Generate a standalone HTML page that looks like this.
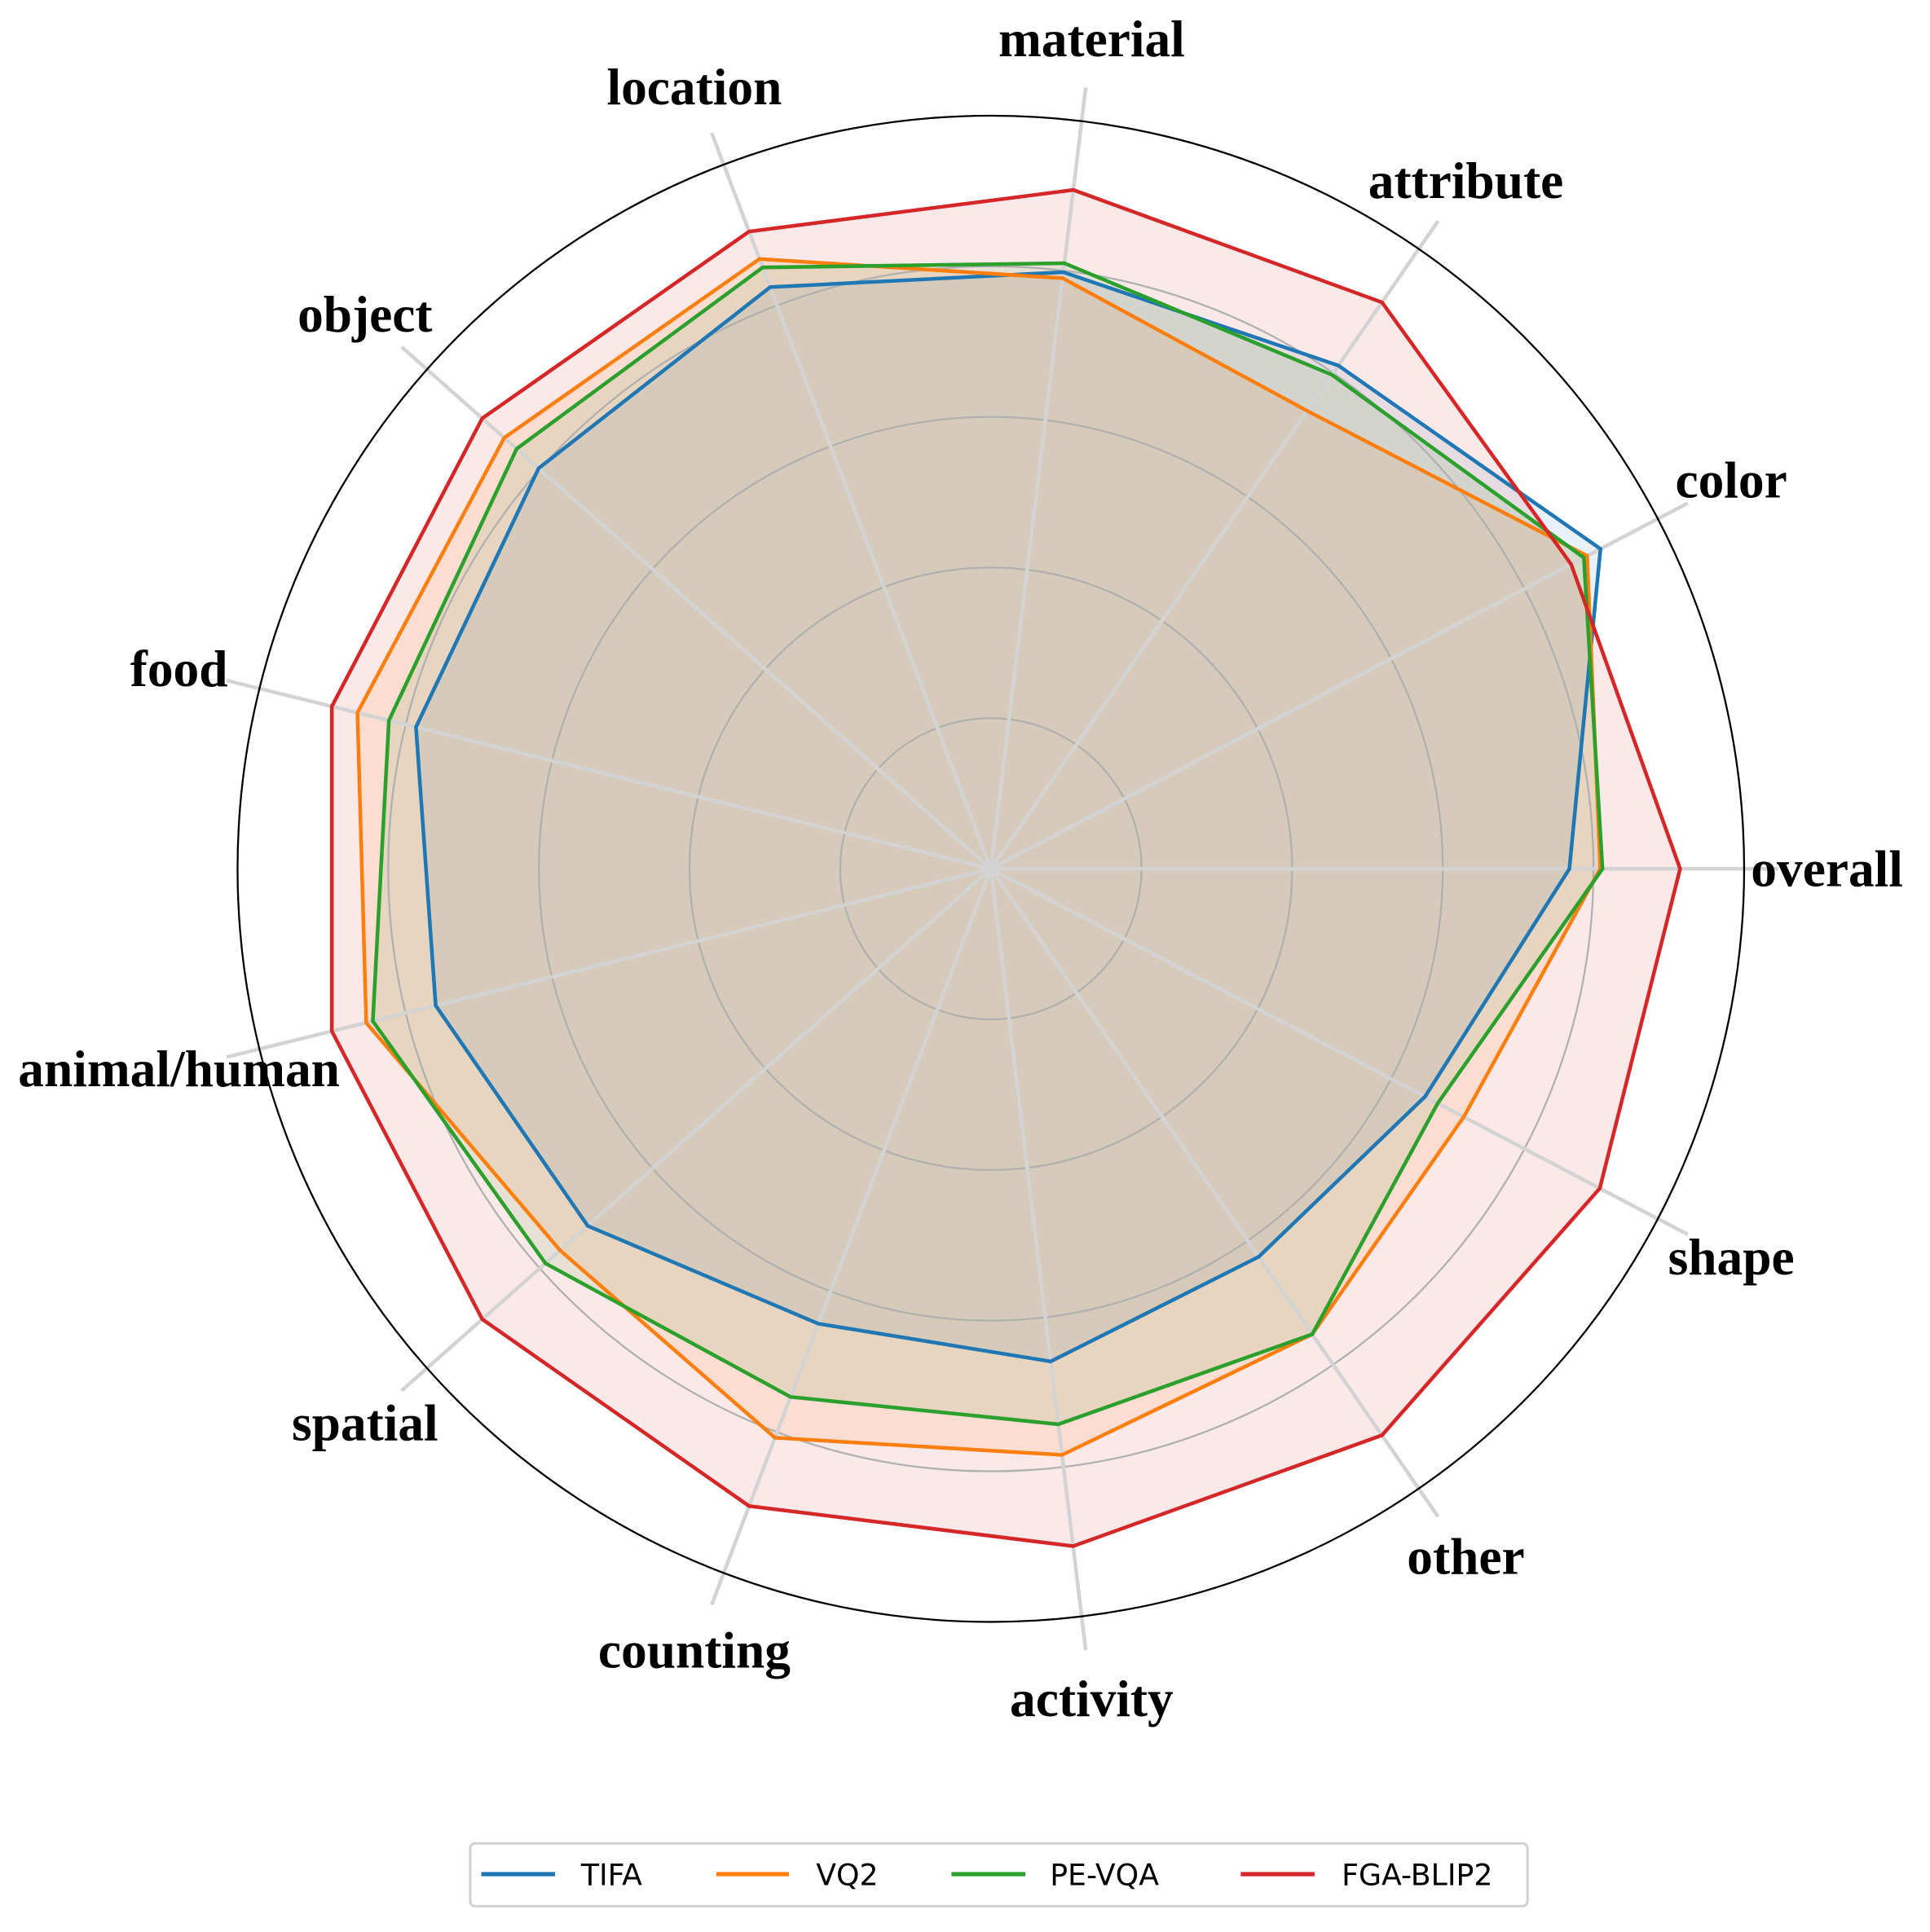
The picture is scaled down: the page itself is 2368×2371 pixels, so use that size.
<!DOCTYPE html>
<html><head><meta charset="utf-8"><style>
html,body{margin:0;padding:0;background:#fff;}
svg{display:block;}
</style></head><body>
<svg id="chart" width="2368" height="2371" viewBox="0 0 1568 1570" preserveAspectRatio="none" xmlns="http://www.w3.org/2000/svg">
<g id="fills"></g>
<g id="grid"></g>
<g id="series"></g>
<g id="labels"></g>
<g>
<rect x="382" y="1498" width="859" height="51" rx="4" fill="#fff" stroke="#d0d0d0" stroke-width="2"/>
<g><line x1="391" y1="1523" x2="451" y2="1523" stroke="#1f77b4" stroke-width="3.5"/><text x="472" y="1532" font-family="DejaVu Sans, sans-serif" font-size="24">TIFA</text></g>
<g><line x1="582" y1="1523" x2="641" y2="1523" stroke="#ff7f0e" stroke-width="3.5"/><text x="663" y="1532" font-family="DejaVu Sans, sans-serif" font-size="24">VQ2</text></g>
<g><line x1="773" y1="1523" x2="833" y2="1523" stroke="#2ca02c" stroke-width="3.5"/><text x="853" y="1532" font-family="DejaVu Sans, sans-serif" font-size="24">PE-VQA</text></g>
<g><line x1="1008" y1="1523" x2="1068" y2="1523" stroke="#d62728" stroke-width="3.5"/><text x="1090" y="1532" font-family="DejaVu Sans, sans-serif" font-size="24">FGA-BLIP2</text></g>
</g>
</svg>
<script>
const categories = ["overall","color","attribute","material","location","object","food","animal/human","spatial","counting","activity","other","shape"];
const tifa  = [0.768,0.914,0.812,0.798,0.826,0.802,0.786,0.759,0.715,0.646,0.659,0.626,0.651];
const vq2   = [0.809,0.894,0.739,0.790,0.866,0.863,0.866,0.854,0.764,0.808,0.784,0.751,0.709];
const pevqa = [0.812,0.889,0.797,0.810,0.854,0.841,0.823,0.845,0.790,0.750,0.743,0.751,0.670];
const fga   = [0.915,0.870,0.914,0.908,0.905,0.902,0.901,0.901,0.902,0.905,0.906,0.914,0.913];
const gridTicks = [0.2,0.4,0.6,0.8];
const seriesNames = ["tifa","vq2","pe-vqa","fga-blip2"];
const seriesColors = ["#1f77b4","#ff7f0e","#2ca02c","#d62728"];

const NS="http://www.w3.org/2000/svg";
const cx=805, cy=706, R=612;
const n=categories.length;
function ang(i){return i*2*Math.PI/n;}
function pt(i,v){return [cx+R*v*Math.cos(ang(i)), cy-R*v*Math.sin(ang(i))];}
function mk(tag,attrs,parent){const e=document.createElementNS(NS,tag);for(const k in attrs)e.setAttribute(k,attrs[k]);parent.appendChild(e);return e;}
const fills=document.getElementById('fills');
[tifa,vq2,pevqa,fga].forEach((vals,s)=>{
  const pts=vals.map((v,i)=>pt(i,v).join(',')).join(' ');
  const f=mk('polygon',{points:pts,fill:seriesColors[s],'fill-opacity':0.1,stroke:'none'},fills);
  
  
});
const grid=document.getElementById('grid');
gridTicks.forEach(t=>{
  const c=mk('circle',{cx:cx,cy:cy,r:R*t,fill:'none',stroke:'#b0b0b0','stroke-width':1.5},grid);
  
  
});
for(let i=0;i<n;i++){
  const p=pt(i,1.045);
  const l=mk('line',{x1:cx,y1:cy,x2:p[0],y2:p[1],stroke:'#d3d3d3','stroke-width':3},grid);
  
  
}
const oc=mk('circle',{cx:cx,cy:cy,r:R,fill:'none',stroke:'#000','stroke-width':1.5},grid);



const sg=document.getElementById('series');
[tifa,vq2,pevqa,fga].forEach((vals,s)=>{
  const pts=vals.map((v,i)=>pt(i,v).join(',')).join(' ');
  const l=mk('polygon',{points:pts,fill:'none',stroke:seriesColors[s],'stroke-width':3,'stroke-linejoin':'miter'},sg);
  
  
});
const lg=document.getElementById('labels');
categories.forEach((c,i)=>{
  const p=pt(i,1.11);
  const t=mk('text',{x:p[0],y:p[1]+14,'text-anchor':'middle','font-family':'Liberation Serif, serif','font-weight':'bold','font-size':42},lg);
  t.textContent=c;
  
  
});
</script>
</body></html>
